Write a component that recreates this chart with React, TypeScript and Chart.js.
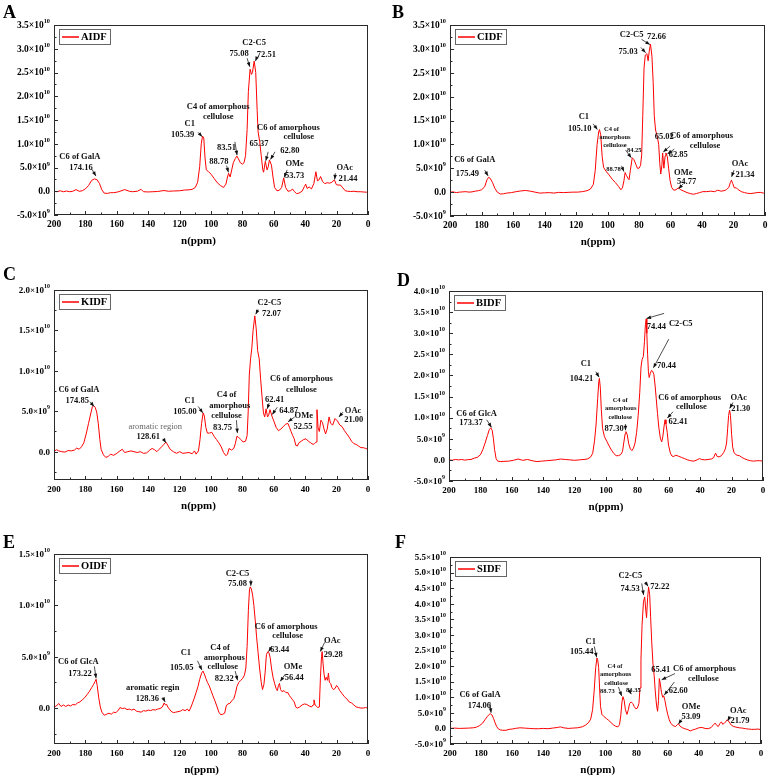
import React, { useEffect, useRef } from 'react';
import { Chart, registerables } from 'chart.js';

Chart.register(...registerables);

const SERIF = '"Liberation Serif", "Times New Roman", Times, serif';

// ===== Spectra: [chemical shift (ppm), intensity (×10^9)] =====
const aidfSpectrum: [number, number][] = [
  [200,0],[198,-0.1],[196,0.1],[194,-0.1],[192,0.05],[190,-0.1],[188,0],[186,0.35],[184,0],[182,0.1],
  [180,0.5],[178,1.2],[176,2.3],[174.2,2.6],[172.5,2.4],[171,1.6],[169.5,0.3],[168,-0.4],[166,-0.45],[164,-0.3],
  [162,-0.3],[160,-0.2],[158,0],[155,0.35],[152,0],[150,-0.1],[147,0],[144.5,0.4],[143,-0.1],[140,-0.15],
  [137,-0.1],[134,-0.05],[130,0.15],[127,0],[124,0.05],[120,0.1],[117,0.25],[114,0.3],[112,0.4],[110,0.8],
  [108.5,1.9],[107.2,5.2],[106.2,10],[105.4,11.6],[104.6,11.2],[103.8,7],[103,4.5],[101.5,4.1],[100,3.6],[98,2.7],
  [96,1.8],[94,1.2],[92,0.8],[90.5,1.5],[89.5,3],[88.8,3.8],[87.8,3],[86.8,4.5],[85.8,6],[84.5,6.9],
  [83.5,7.4],[82.5,6.8],[81.3,6],[80,5.7],[79,6],[78,7.5],[77,13],[76.2,21],[75.1,25.7],[74.2,24.6],
  [73.6,25],[72.5,27.4],[71.5,25],[70.6,17],[70,12.5],[69,10.5],[68,7.5],[67,4.5],[66.5,4],[65.4,6.3],
  [64.3,4.5],[63.5,5.2],[62.8,6.6],[61.5,5.5],[60.5,3],[59.5,0.8],[58,0.1],[56.5,0.2],[55,0.8],[53.7,2.8],
  [52.5,0.8],[51,0],[49.5,0.1],[48,0.45],[47,0],[45.5,-0.5],[44,-0.4],[42,0],[40.5,1],[39.7,1.5],
  [38.8,0.6],[37.5,0.9],[36,0.5],[34.5,1.6],[33.2,4.1],[32.2,2.2],[31.2,2.4],[30.2,3.1],[29,2.1],[27.5,1.6],
  [26,1.8],[24.5,1.7],[23,1.9],[21.4,2.4],[20.2,1.4],[19,1.3],[17.5,1.3],[16,0.7],[14.5,0.1],[13,0],
  [11,-0.05],[9,0],[7,-0.1],[5,-0.1],[3,-0.15],[1,-0.2],[0,-0.2],
];

const cidfSpectrum: [number, number][] = [
  [200,0],[198,0.05],[196,-0.1],[194,0],[192,0.05],[190,0.1],[188,0],[186,0.05],[184,0.2],[182,0.3],
  [180,0.5],[178,1.1],[176.5,2.6],[175.5,3.1],[174.5,2.9],[173,2],[171.5,0.8],[170,0],[168,-0.4],[166,-0.35],
  [164,-0.2],[161,-0.1],[158,0.1],[155,0.25],[152,0.35],[149,0.2],[146,0],[143,-0.2],[140,-0.15],[137,-0.1],
  [134,-0.2],[131,-0.05],[128,-0.1],[125,-0.05],[122,0],[119,0],[116,0.1],[113,0.3],[111,0.6],[109,1.6],
  [107.8,4.5],[106.6,10],[105.6,12.6],[105.1,13.1],[104.3,12],[103.4,7.5],[102.5,5.2],[101,4.4],[99,3.6],[97,2.7],
  [95,2],[93,1.2],[91.5,0.5],[90.5,0.9],[89.5,2.5],[88.8,4.1],[88,3.5],[87,2.9],[86.3,2.6],[85.5,4.5],
  [84.3,7.2],[83.2,6.8],[82,5.8],[81,5],[80,5],[79,5.6],[78.3,7.8],[77.6,16],[76.8,26],[76,28.7],
  [75,29],[74.2,27.5],[73.5,29.5],[72.7,31],[71.8,28.5],[71,23],[70.3,16],[69.5,13],[68.5,11.8],[67.5,10],
  [66.8,6],[66.2,3.8],[65.5,5.5],[65,8.2],[64.2,5],[63.4,7.6],[62.9,8.2],[62,7.4],[61.2,5],[60.3,2.5],
  [59.3,1],[58,0.4],[56.5,0.5],[55,0.9],[53.5,0.5],[51.5,0.2],[49.5,-0.1],[47.5,-0.3],[45.5,-0.45],[43.5,-0.3],
  [41.5,-0.1],[39.5,0.1],[37,0.1],[34.5,0.2],[32,0.1],[30,0.4],[28,0.2],[26,0.3],[24.5,0.5],[23,1],
  [22,2],[21.3,2.5],[20.5,1.8],[19.5,0.9],[18.2,0.9],[17,0.5],[15,0.1],[13,-0.1],[11,-0.25],[9,-0.3],
  [7,-0.2],[5,-0.1],[3,-0.05],[1,-0.2],[0,-0.3],
];

const kidfSpectrum: [number, number][] = [
  [200,0],[198.5,0.25],[197,0.1],[195,0],[193,-0.05],[191,0.15],[189,0.1],[187,0.2],[185.5,0.45],[184,0.3],
  [182.5,0.6],[181,1.1],[179.5,2.2],[178,3.5],[176.5,4.8],[175.5,5.6],[174.8,5.7],[173.8,5.5],[172.8,4.9],[171.8,3.5],
  [170.8,1.5],[170,0.3],[168.5,-0.4],[167,-0.7],[165.5,-0.6],[164,-0.3],[162,-0.45],[160,-0.2],[158,0.1],[156.5,0.3],
  [155,-0.1],[153,0],[151,0.1],[149,0],[147,-0.1],[145,0],[143,-0.2],[141,-0.15],[139,0.2],[137.5,0.4],
  [136,0.25],[134.5,0],[133,0.3],[131.5,0.6],[130,0.9],[128.7,1.2],[127.5,0.8],[126,0.3],[124,0],[122,-0.2],
  [120,0],[118,-0.2],[116,-0.15],[114,-0.1],[112,-0.25],[110.5,0.1],[109.5,-0.3],[108,0.1],[107,1.5],[106,3.5],
  [105,4.8],[104.2,4.4],[103.3,3],[102.3,2.3],[101,2.3],[99.5,2.4],[98,1.9],[96.5,1.5],[95,1.1],[93.5,0.6],
  [92,-0.1],[90.5,-0.5],[89.5,-0.3],[88.5,0.4],[87,0.2],[85.5,0.4],[84.5,1],[83.5,1.9],[82.5,1.8],[81,1.5],
  [79.5,1.2],[78,1.3],[77,2],[76.3,5],[75.6,9.5],[74.8,11.5],[74,12.8],[73.2,15],[72.1,16.8],[71.2,15.2],
  [70.3,12.5],[69.3,11.5],[68.4,9],[67.5,6.8],[66.6,4.8],[65.8,4.3],[64.9,5.3],[64,4.3],[63.3,4.5],[62.4,5.2],
  [61.2,4.4],[60,3.8],[58.5,3],[57,2.6],[55.5,2.8],[54,3.1],[52.5,3.4],[51,3.5],[50,3],[49,2.5],
  [48,2],[47,1.6],[46,0.8],[45,0.7],[44,1.1],[42.5,1.3],[41,1.5],[39.5,1.6],[38,1.3],[36.5,1.1],
  [35,0.9],[34,1],[33,1.2],[32.5,5.2],[31.8,3],[31,2.5],[30,3.9],[29,3.6],[28,2.8],[27,2.2],
  [26,2.8],[24.8,4.3],[23.8,3.5],[22.5,3.3],[21,4.1],[19.5,3.8],[18,3.3],[16.5,3.1],[15,2.6],[13.5,2.2],
  [12,1.8],[10.5,1.3],[9,1],[7.5,0.9],[6,0.7],[4.5,0.5],[3,0.5],[1.5,0.4],[0,0.3],
];

const bidfSpectrum: [number, number][] = [
  [200,0],[198,-0.1],[196,0.1],[194,0],[192,0.1],[190,-0.05],[188,0.05],[186,0.1],[184,0.4],[182,0.6],
  [180,1.2],[178.5,2.4],[177,4],[175.5,5.8],[174.3,7.2],[173.4,7.6],[172.5,7],[171.7,5],[171,2.5],[170,0.3],
  [169,-0.3],[167,-0.4],[165,-0.35],[162,-0.3],[159,-0.1],[156,0.2],[153,-0.1],[150,0.1],[147,-0.2],[144,-0.4],
  [141,-0.3],[138,-0.2],[135,-0.1],[132,0],[129,0.2],[126,0.1],[123,0],[120,-0.1],[117,0],[114,0.1],
  [112,0.2],[110,0.6],[108.5,1.5],[107.3,4.5],[106.3,8.5],[105.3,14.5],[104.6,18.5],[104.2,19.3],[103.6,17],[103,12],
  [102.2,7.5],[101,5.5],[99.5,4.4],[98,3.3],[96.5,2.3],[95,1.5],[93.5,1],[92,1],[90.5,1.3],[89.5,2],
  [88.7,4],[87.8,6.2],[87.3,6.7],[86.5,6],[85.5,3.8],[84.5,2.6],[83.5,2.2],[82.5,2.8],[81.5,4],[80.5,6.5],
  [79.5,10.5],[78.5,16],[77.7,22],[77,23.8],[76.2,24.5],[75.5,28],[74.9,32],[74.4,33.4],[74,30],[73.5,25],
  [73,21],[72.5,19.5],[71.8,20.5],[71,21.2],[70.3,21],[69.5,20.2],[68.7,17.5],[68,14.5],[67.2,11],[66.3,7.5],
  [65.3,5],[64.5,4.3],[63.8,5.5],[63,8],[62.4,9.5],[61.8,8.5],[61,6.5],[60.2,3.5],[59,1.6],[58,0.9],
  [57,0.8],[55.5,1.1],[54,0.9],[52,0.6],[50,0.3],[48,0],[46,-0.2],[44,-0.3],[42,0],[40.5,0.3],
  [39,0.1],[37,0],[35,0.1],[33,0.2],[31.5,0.5],[30.2,1.6],[29.2,0.8],[28,0.7],[26.5,1],[25,1.8],
  [24,2.6],[23.2,4],[22.5,7.5],[21.9,10.5],[21.3,11.8],[20.7,10.5],[20,6],[19.3,3],[18.5,1.8],[17.5,1.3],
  [16.5,1.1],[15,1],[13.5,0.6],[12,0.3],[10,0],[8,-0.2],[6,-0.3],[4,-0.2],[2,-0.2],[0,-0.3],
];

const oidfSpectrum: [number, number][] = [
  [200,0.1],[198.5,0.2],[197,0.45],[195.5,0.15],[194,0.3],[192.5,0.15],[191,0.3],[189.5,0.2],[188,0.35],[186.5,0.3],
  [185,0.5],[183.5,0.6],[182,0.8],[180.5,1],[179,1.3],[177.5,1.6],[176,2],[174.8,2.3],[173.8,2.6],[173.2,2.8],
  [172.5,2.2],[171.5,1],[170.5,0.1],[169.5,-0.4],[168,-0.7],[166.5,-0.6],[165,-0.5],[163.5,-0.6],[162,-0.4],[160.5,-0.45],
  [159,-0.2],[158,0.05],[156.5,-0.05],[155,0],[153.5,-0.15],[152,-0.1],[150.5,-0.2],[149,-0.1],[147.5,-0.3],[146,-0.35],
  [144.5,-0.4],[143,-0.25],[141.5,-0.3],[140,-0.2],[138.5,-0.25],[137,-0.15],[135.5,-0.2],[134,-0.1],[132.5,-0.05],[131,0.1],
  [129.8,0.5],[129,0.3],[128.2,0.35],[127.5,0.1],[126.5,-0.1],[125.5,-0.3],[124,-0.45],[122.5,-0.4],[121,-0.35],[119.5,-0.3],
  [118,-0.15],[116.5,-0.25],[115,-0.1],[114,-0.3],[113,0],[112,0.4],[110.8,0.9],[109.5,1.5],[108.3,2.1],[107.2,2.8],
  [106,3.4],[105.1,3.6],[104.2,3.3],[103.3,2.9],[102.3,2.5],[101.2,2.2],[100,1.7],[98.8,1.2],[97.5,0.7],[96.3,0.2],
  [95,-0.4],[93.8,-0.65],[92.5,-0.6],[91.3,-0.5],[90.3,0.2],[89.3,0.4],[88,0.45],[86.8,0.7],[85.5,0.9],[84.5,1.4],
  [83.5,2.1],[82.3,2.5],[81,2.7],[79.8,2.9],[78.7,3.2],[77.8,3.9],[77,6],[76.2,9.5],[75.5,11.5],[75,11.8],
  [74.3,11.6],[73.5,11],[72.7,10],[71.8,8.5],[71,7],[70,5.4],[69,3.8],[68,2.5],[67.2,1.8],[66.3,2.3],
  [65.5,3.5],[64.7,5.2],[63.8,5.5],[63.1,5.4],[62.3,4.9],[61.5,3.9],[60.5,3],[59.5,2.4],[58.5,1.9],[57.8,1.7],
  [57,2.2],[56.4,2.4],[55.7,1.8],[54.8,1.6],[53.5,1.7],[52.3,1.5],[51,1.5],[50,1.2],[49,1],[48,0.8],
  [47,0.6],[46,0.1],[45,0],[43.5,0.1],[42,0.3],[40.5,0.4],[39,0.35],[37.5,0.2],[36,0.1],[35,0.3],
  [34.4,0.8],[33.7,0.3],[33,0.2],[32,0.05],[31,0.1],[30.3,3],[29.6,5],[29.2,5.5],[28.6,4.3],[28,3.3],
  [27.3,2.7],[26.6,3],[25.8,2.7],[25.2,3.4],[24.6,2.5],[23.8,2.4],[23,2],[22,1.8],[21,1.9],[20,2.2],
  [19,2],[18,1.7],[16.5,1.4],[15,1.1],[13.5,0.9],[12,0.6],[10.5,0.5],[9,0.3],[7.5,0.1],[6,0.05],
  [4.5,0],[3,0],[1.5,0.05],[0,0],
];

const sidfSpectrum: [number, number][] = [
  [200,0],[197,0.1],[194,0],[191,0.05],[188,0.1],[185,0.2],[183,0.4],[181,0.9],[179,1.7],[177.5,2.8],
  [176,3.8],[174.8,4.5],[174,4.7],[173,4.3],[172,3.2],[171,1.8],[170,0.6],[169,-0.1],[167.5,-0.5],[166,-0.6],
  [164,-0.6],[162,-0.3],[160,-0.2],[158,0],[155,0.2],[152,0.1],[149,0],[146,-0.1],[143,-0.1],[140,0],
  [137,-0.1],[134,0.1],[131,0.3],[129,0.5],[127,0.2],[124,0],[121,0.1],[118,0.2],[115,0.5],[113,1],
  [111,1.8],[109.5,3],[108.3,6],[107.3,12],[106.3,19.5],[105.5,22.6],[105,22],[104.4,19.5],[103.8,13],[103.2,7],
  [102.3,4.5],[101,3.8],[99.5,3.2],[98,2.6],[96.5,1.9],[95,1.2],[93.5,0.7],[92,0.5],[91,1.2],[90.2,4],
  [89.4,8.5],[88.8,10.2],[88,9],[87.2,6],[86.2,4.5],[85.3,6],[84.5,8],[83.5,8.5],[82.5,8],[81.5,7],
  [80.5,6.3],[79.5,6.5],[78.5,8],[77.8,13],[77.2,22],[76.5,33],[75.6,40.5],[74.8,42.2],[74.1,38],[73.6,35.5],
  [72.9,42],[72.3,45.3],[71.6,43],[71,36],[70.3,28],[69.5,21],[68.7,17],[68,12],[67.2,7.5],[66.5,5.5],
  [65.9,9],[65.4,16],[64.8,14.5],[64,11.5],[63.2,10],[62.6,10.5],[61.8,9],[61,6.8],[60,4.5],[59,2.8],
  [58,1.6],[56.5,0.9],[55,0.6],[53.8,1.2],[53.1,1.5],[52,0.7],[50.5,0.2],[49,-0.1],[47,-0.4],[45.5,-0.8],
  [44,-0.5],[42,-0.2],[40,0.2],[38,0.3],[36,0],[34,-0.1],[32,0.3],[30.5,1.2],[29.5,1.7],[28.5,1],
  [27.5,0.6],[26.5,1.5],[25.5,2.1],[24.5,1.3],[23.5,1.8],[22.5,2.2],[21.8,2.8],[21,2.4],[20,1.7],[19,1],
  [17.5,0.6],[16,0.4],[14,0.2],[12,0.1],[10,-0.1],[8,-0.2],[6,-0.3],[4,-0.3],[2,-0.2],[0,-0.4],
];

// ===== Axis tick values =====
const xTickValues = [0, 20, 40, 60, 80, 100, 120, 140, 160, 180, 200];
const yTicksAB = [-5, 0, 5, 10, 15, 20, 25, 30, 35];
const yTicksC = [0, 5, 10, 15, 20];
const yTicksD = [-5, 0, 5, 10, 15, 20, 25, 30, 35, 40];
const yTicksE = [0, 5, 10, 15];
const yTicksF = [-5, 0, 5, 10, 15, 20, 25, 30, 35, 40, 45, 50, 55];

// ===== Peak annotations: text at (ppm, intensity ×10^9) =====
type Note = { t: string; x: number; y: number; k?: 'small' | 'gray' };
type Arrow = [number, number, number, number];

const notesA: Note[] = [
  { t: 'C6 of GalA', x: 183.5, y: 7.15 }, { t: '174.16', x: 182.8, y: 4.85 },
  { t: 'C1', x: 113.5, y: 14.1 }, { t: '105.39', x: 118.1, y: 11.85 },
  { t: 'C4 of amorphous', x: 95.4, y: 17.8 }, { t: 'cellulose', x: 95.4, y: 15.6 },
  { t: '83.51', x: 90.1, y: 9.2 }, { t: '88.78', x: 95, y: 6.1 },
  { t: 'C2-C5', x: 72.5, y: 31.3 }, { t: '75.08', x: 82.1, y: 29.0 }, { t: '72.51', x: 64.7, y: 28.8 },
  { t: 'C6 of amorphous', x: 50.7, y: 13.4 }, { t: 'cellulose', x: 44.1, y: 11.4 },
  { t: '65.37', x: 69.4, y: 10 }, { t: '62.80', x: 49.8, y: 8.5 },
  { t: 'OMe', x: 46.7, y: 5.7 }, { t: '53.73', x: 46.7, y: 3.2 },
  { t: 'OAc', x: 14.8, y: 5 }, { t: '21.44', x: 12.7, y: 2.7 },
];
const arrowsA: Arrow[] = [
  [175.8, 4.6, 173.3, 3.2], [108.2, 12.4, 105.6, 11.5], [84.8, 10.4, 83.4, 7.6], [90.1, 5.4, 88.9, 4.0],
  [77, 28, 75.3, 26.2], [70.6, 28.3, 71.7, 27.4], [63.6, 8.3, 65.1, 6.4], [59.2, 8.3, 62.1, 6.7],
  [51.5, 4.5, 53.4, 2.9], [20.8, 3.8, 21.2, 2.5],
];

const notesB: Note[] = [
  { t: 'C6 of GalA', x: 184.3, y: 6.85 }, { t: '175.49', x: 189, y: 3.9 },
  { t: 'C1', x: 115, y: 15.7 }, { t: '105.10', x: 117.6, y: 13.2 },
  { t: 'C4 of', x: 97.5, y: 13.2, k: 'small' }, { t: 'amorphous', x: 95.3, y: 11.5, k: 'small' },
  { t: 'cellulose', x: 95.3, y: 9.7, k: 'small' },
  { t: '88.78', x: 96.2, y: 4.8, k: 'small' }, { t: '84.25', x: 83, y: 8.7, k: 'small' },
  { t: 'C2-C5', x: 84.7, y: 32.9 }, { t: '72.66', x: 68.9, y: 32.6 }, { t: '75.03', x: 86.9, y: 29.4 },
  { t: '65.02', x: 64.0, y: 11.5 }, { t: 'C6 of amorphous', x: 40.3, y: 11.7 }, { t: 'cellulose', x: 38.1, y: 9.6 },
  { t: '62.85', x: 55.1, y: 7.8 },
  { t: 'OMe', x: 51.9, y: 4.1 }, { t: '54.77', x: 49.8, y: 2.2 },
  { t: 'OAc', x: 15.9, y: 5.9 }, { t: '21.34', x: 12.7, y: 3.6 },
];
const arrowsB: Arrow[] = [
  [178, 4.6, 175.8, 3.4], [109.1, 14.3, 106.4, 13.1], [91.1, 5.5, 89.6, 4.3], [88.5, 8.8, 84.9, 7.2],
  [78.4, 32, 73.1, 30.9], [78.8, 30.3, 75.8, 29.2], [60.4, 9.6, 64.6, 8.4], [57.6, 9.0, 61.9, 8.0],
  [52, 1.7, 54.9, 0.7], [19.7, 4.6, 21.2, 3.2],
];

const notesC: Note[] = [
  { t: 'C6 of GalA', x: 184.1, y: 7.6 }, { t: '174.85', x: 185.2, y: 6.3 },
  { t: 'aromatic region', x: 135.5, y: 3.1, k: 'gray' }, { t: '128.61', x: 140, y: 1.8 },
  { t: 'C1', x: 113.5, y: 6.3 }, { t: '105.00', x: 116.6, y: 4.9 },
  { t: 'C4 of', x: 90.1, y: 7 }, { t: 'amorphous', x: 88, y: 5.7 }, { t: 'cellulose', x: 90.1, y: 4.4 },
  { t: '83.75', x: 92.7, y: 3 },
  { t: 'C2-C5', x: 62.8, y: 18.4 }, { t: '72.07', x: 61.5, y: 17.1 },
  { t: 'C6 of amorphous', x: 42.4, y: 9 }, { t: 'cellulose', x: 42.4, y: 7.7 },
  { t: '62.41', x: 59.5, y: 6.4 }, { t: '64.87', x: 50.5, y: 5.0 },
  { t: 'OMe', x: 40.9, y: 4.4 }, { t: '52.55', x: 41.4, y: 3.1 },
  { t: 'OAc', x: 9.5, y: 5 }, { t: '21.00', x: 9.1, y: 3.9 },
];
const arrowsC: Arrow[] = [
  [177.1, 6.2, 174.5, 5.6], [130.4, 1.6, 128.7, 1.1], [108.2, 5.6, 105.2, 4.8], [83.8, 3.9, 83.2, 2.3],
  [70, 17.6, 71.5, 17.0], [63, 6.0, 64.2, 5.3], [57.8, 5.5, 61.0, 4.6], [46.7, 4.3, 50.9, 3.7],
  [15.9, 4.9, 18.5, 4.3],
];

const notesD: Note[] = [
  { t: 'C6 of GlcA', x: 182.4, y: 11 }, { t: '173.37', x: 186, y: 8.7 },
  { t: 'C1', x: 112.8, y: 22.7 }, { t: '104.21', x: 115.6, y: 19.3 },
  { t: 'C4 of', x: 91, y: 14, k: 'small' }, { t: 'amorphous', x: 90.6, y: 12.1, k: 'small' },
  { t: 'cellulose', x: 91, y: 10.1, k: 'small' }, { t: '87.30', x: 94.8, y: 7.3 },
  { t: '74.44', x: 67.9, y: 31.6 }, { t: 'C2-C5', x: 52.4, y: 32.3 }, { t: '70.44', x: 61.5, y: 22.2 },
  { t: 'C6 of amorphous', x: 46.7, y: 14.8 }, { t: 'cellulose', x: 45.6, y: 12.6 }, { t: '62.41', x: 54.1, y: 9.1 },
  { t: 'OAc', x: 15.5, y: 14.8 }, { t: '21.30', x: 14.2, y: 12 },
];
const arrowsD: Arrow[] = [
  [176, 9.5, 172.9, 7.7], [106.5, 20.9, 104.4, 19.6], [87.6, 8.5, 87.6, 7.0], [63, 34.7, 74.2, 33.5],
  [60, 28.6, 69.8, 21.8], [57.3, 11.4, 60.9, 9.9], [19.1, 13.6, 21.2, 12.2],
];

const notesE: Note[] = [
  { t: 'C6 of GlcA', x: 184.5, y: 4.55 }, { t: '173.22', x: 183.4, y: 3.35 },
  { t: 'aromatic regin', x: 137.1, y: 2.0 }, { t: '128.36', x: 140.5, y: 0.9 },
  { t: 'C1', x: 116, y: 5.4 }, { t: '105.05', x: 118.6, y: 3.96 },
  { t: 'C4 of', x: 94.2, y: 5.84 }, { t: 'amorphous', x: 91.6, y: 4.94 }, { t: 'cellulose', x: 92.5, y: 4.06 },
  { t: '82.32', x: 91.6, y: 2.82 },
  { t: 'C2-C5', x: 83.1, y: 13.1 }, { t: '75.08', x: 83.1, y: 12.1 },
  { t: 'C6 of amorphous', x: 52.1, y: 7.95 }, { t: 'cellulose', x: 51.2, y: 7 }, { t: '63.44', x: 56.3, y: 5.7 },
  { t: 'OMe', x: 47.8, y: 4.05 }, { t: '56.44', x: 47, y: 2.9 },
  { t: 'OAc', x: 22.7, y: 6.56 }, { t: '29.28', x: 22.1, y: 5.2 },
];
const arrowsE: Arrow[] = [
  [174.3, 4.06, 173.2, 2.9], [130.7, 1.04, 129.2, 0.6], [108.6, 4.6, 105.8, 3.7], [84.6, 3.6, 83.1, 2.7],
  [74.6, 12.5, 74.6, 11.9], [61.2, 6.0, 63.3, 5.5], [52.7, 3.3, 55.9, 2.6], [27.6, 6.4, 30.4, 5.5],
];

const notesF: Note[] = [
  { t: 'C6 of GalA', x: 180.7, y: 10.9 }, { t: '174.06', x: 181.1, y: 7.1 },
  { t: 'C1', x: 109.5, y: 27.9 }, { t: '105.44', x: 115.3, y: 24.7 },
  { t: 'C4 of', x: 93.9, y: 19.9, k: 'small' }, { t: 'amorphous', x: 93.5, y: 17.2, k: 'small' },
  { t: 'cellulose', x: 93.2, y: 14.6, k: 'small' },
  { t: '88.73', x: 98.8, y: 11.9, k: 'small' }, { t: '83.35', x: 82.1, y: 12.2, k: 'small' },
  { t: 'C2-C5', x: 84.0, y: 49.1 }, { t: '74.53', x: 84.2, y: 44.9 }, { t: '72.22', x: 65, y: 45.4 },
  { t: '65.41', x: 64.5, y: 18.8 }, { t: 'C6 of amorphous', x: 36.4, y: 19.1 }, { t: 'cellulose', x: 37.1, y: 16 },
  { t: '62.60', x: 53.2, y: 12.2 },
  { t: 'OMe', x: 45, y: 6.8 }, { t: '53.09', x: 45, y: 3.6 },
  { t: 'OAc', x: 14.6, y: 5.7 }, { t: '21.79', x: 13.5, y: 2.6 },
];
const arrowsF: Arrow[] = [
  [174.3, 8.2, 173.6, 5.0], [107.2, 26.3, 105.7, 22.8], [91.7, 13.3, 89.6, 10.4], [85.7, 13.0, 83.4, 11.0],
  [76.7, 46.5, 75.5, 42.8], [74.6, 47.0, 72.6, 45.6], [55.3, 17.6, 63.9, 15.6], [55.7, 14.9, 62.2, 10.7],
  [51, 2.9, 53.1, 1.4], [19.9, 3.9, 21.4, 2.4],
];

// ===== Panel layout =====
type Panel = {
  letter: string; name: string; spectrum: [number, number][];
  yMin: number; yMax: number; yTicks: number[];
  notes: Note[]; arrows: Arrow[];
  left: number; top: number; w: number; h: number;
  area: { left: number; right: number; top: number; bottom: number };
  letterPos: [number, number]; titlePpm: number; tickSize: number;
};

const panels: Panel[] = [
  { letter: 'A', name: 'AIDF', spectrum: aidfSpectrum, yMin: -5, yMax: 35, yTicks: yTicksAB, notes: notesA, arrows: arrowsA,
    left: 0, top: 0, w: 385, h: 260, area: { left: 54, right: 368, top: 25, bottom: 215 }, letterPos: [3, 18], titlePpm: 108, tickSize: 9.5 },
  { letter: 'B', name: 'CIDF', spectrum: cidfSpectrum, yMin: -5, yMax: 35, yTicks: yTicksAB, notes: notesB, arrows: arrowsB,
    left: 385, top: 0, w: 385, h: 260, area: { left: 65, right: 380, top: 25, bottom: 216 }, letterPos: [7, 18], titlePpm: 106, tickSize: 9.5 },
  { letter: 'C', name: 'KIDF', spectrum: kidfSpectrum, yMin: -3.5, yMax: 20, yTicks: yTicksC, notes: notesC, arrows: arrowsC,
    left: 0, top: 260, w: 385, h: 255, area: { left: 54, right: 368, top: 30, bottom: 220 }, letterPos: [3, 20], titlePpm: 108, tickSize: 9 },
  { letter: 'D', name: 'BIDF', spectrum: bidfSpectrum, yMin: -5, yMax: 40, yTicks: yTicksD, notes: notesD, arrows: arrowsD,
    left: 385, top: 260, w: 385, h: 255, area: { left: 64, right: 378, top: 31, bottom: 221 }, letterPos: [12, 26], titlePpm: 100, tickSize: 9 },
  { letter: 'E', name: 'OIDF', spectrum: oidfSpectrum, yMin: -3.5, yMax: 15, yTicks: yTicksE, notes: notesE, arrows: arrowsE,
    left: 0, top: 515, w: 385, h: 264, area: { left: 54, right: 368, top: 39, bottom: 229 }, letterPos: [3, 33], titlePpm: 106, tickSize: 9 },
  { letter: 'F', name: 'SIDF', spectrum: sidfSpectrum, yMin: -5, yMax: 55, yTicks: yTicksF, notes: notesF, arrows: arrowsF,
    left: 385, top: 515, w: 385, h: 264, area: { left: 65, right: 376, top: 42, bottom: 229 }, letterPos: [10, 33], titlePpm: 105, tickSize: 9 },
];

function sciParts(v: number): [string, string] {
  if (v === 0) return ['0.0', ''];
  const raw = v * 1e9;
  const e = Math.floor(Math.log10(Math.abs(raw)) + 1e-9);
  const m = raw / Math.pow(10, e);
  return [m.toFixed(1) + '\u00d710', String(e)];
}

function drawArrow(ctx: CanvasRenderingContext2D, x1: number, y1: number, x2: number, y2: number) {
  ctx.beginPath();
  ctx.moveTo(x1, y1);
  ctx.lineTo(x2, y2);
  ctx.stroke();
  const ang = Math.atan2(y2 - y1, x2 - x1);
  const L = 4.5, W = 1.8;
  const bx = x2 - L * Math.cos(ang), by = y2 - L * Math.sin(ang);
  ctx.beginPath();
  ctx.moveTo(x2, y2);
  ctx.lineTo(bx + W * Math.sin(ang), by - W * Math.cos(ang));
  ctx.lineTo(bx - W * Math.sin(ang), by + W * Math.cos(ang));
  ctx.closePath();
  ctx.fill();
}

function makeDecor(p: Panel) {
  return {
    id: 'decor' + p.letter,
    afterDraw(chart: any) {
      const { ctx, chartArea: a } = chart;
      const xs = chart.scales.x, ys = chart.scales.y;
      ctx.save();
      // frame
      ctx.strokeStyle = '#2a2a2a';
      ctx.lineWidth = 1;
      ctx.strokeRect(a.left + 0.5, a.top + 0.5, a.right - a.left - 1, a.bottom - a.top - 1);
      // inward ticks
      ctx.beginPath();
      for (let v = 0; v <= 200; v += 10) {
        const px = Math.round(xs.getPixelForValue(v)) + 0.5;
        const len = v % 20 === 0 ? 4 : 2.5;
        ctx.moveTo(px, a.bottom);
        ctx.lineTo(px, a.bottom - len);
      }
      for (let v = Math.ceil(p.yMin / 2.5) * 2.5; v <= p.yMax + 1e-9; v += 2.5) {
        const py = Math.round(ys.getPixelForValue(v)) + 0.5;
        const major = Math.abs(v / 5 - Math.round(v / 5)) < 1e-6;
        ctx.moveTo(a.left, py);
        ctx.lineTo(a.left + (major ? 4 : 2.5), py);
      }
      ctx.stroke();
      // y tick labels (scientific with superscript)
      ctx.fillStyle = '#000';
      ctx.textBaseline = 'middle';
      ctx.textAlign = 'left';
      const mainFont = `bold ${p.tickSize}px ${SERIF}`;
      const supFont = `bold ${p.tickSize * 0.66}px ${SERIF}`;
      ys.ticks.forEach((t: any) => {
        const py = ys.getPixelForValue(t.value);
        const [main, sup] = sciParts(t.value);
        ctx.font = mainFont;
        const wm = ctx.measureText(main).width;
        ctx.font = supFont;
        const wsup = sup ? ctx.measureText(sup).width : 0;
        const xr = a.left - 4;
        ctx.font = mainFont;
        ctx.fillText(main, xr - wsup - wm, py + 0.5);
        if (sup) {
          ctx.font = supFont;
          ctx.fillText(sup, xr - wsup, py - 3.5);
        }
      });
      // axis title
      ctx.textAlign = 'center';
      ctx.font = `bold 11px ${SERIF}`;
      ctx.fillText('n(ppm)', xs.getPixelForValue(p.titlePpm), a.bottom + 26.5);
      // legend box
      const lx = a.left + 5, ly = a.top + 4, lw = 51, lh = 15;
      ctx.fillStyle = '#fff';
      ctx.fillRect(lx, ly, lw, lh);
      ctx.strokeStyle = '#666';
      ctx.lineWidth = 1;
      ctx.strokeRect(lx + 0.5, ly + 0.5, lw, lh);
      ctx.strokeStyle = '#ff0000';
      ctx.lineWidth = 1.5;
      ctx.beginPath();
      ctx.moveTo(lx + 3, ly + lh / 2 + 0.5);
      ctx.lineTo(lx + 20, ly + lh / 2 + 0.5);
      ctx.stroke();
      ctx.fillStyle = '#000';
      ctx.textAlign = 'left';
      ctx.font = `bold 10.5px ${SERIF}`;
      ctx.fillText(p.name, lx + 22, ly + lh / 2 + 1);
      // peak notes
      ctx.textAlign = 'center';
      p.notes.forEach((n) => {
        if (n.k === 'small') {
          ctx.font = `bold 6.5px ${SERIF}`;
          ctx.fillStyle = '#111';
        } else if (n.k === 'gray') {
          ctx.font = `8.5px ${SERIF}`;
          ctx.fillStyle = '#666';
        } else {
          ctx.font = `bold 8.5px ${SERIF}`;
          ctx.fillStyle = '#111';
        }
        ctx.fillText(n.t, xs.getPixelForValue(n.x), ys.getPixelForValue(n.y));
      });
      // arrows
      ctx.strokeStyle = '#222';
      ctx.fillStyle = '#111';
      ctx.lineWidth = 0.8;
      p.arrows.forEach(([x1, y1, x2, y2]) => {
        drawArrow(ctx, xs.getPixelForValue(x1), ys.getPixelForValue(y1), xs.getPixelForValue(x2), ys.getPixelForValue(y2));
      });
      // panel letter
      ctx.fillStyle = '#000';
      ctx.textAlign = 'left';
      ctx.textBaseline = 'alphabetic';
      ctx.font = `bold 18px ${SERIF}`;
      ctx.fillText(p.letter, p.letterPos[0], p.letterPos[1]);
      ctx.restore();
    },
  };
}

function SpectrumPanel({ p }: { p: Panel }) {
  const ref = useRef<HTMLCanvasElement | null>(null);
  useEffect(() => {
    if (!ref.current) return;
    const chart = new Chart(ref.current, {
      type: 'scatter',
      data: {
        datasets: [
          {
            label: p.name,
            data: p.spectrum.map(([x, y]) => ({ x, y })),
            showLine: true,
            borderColor: '#ff0000',
            borderWidth: 1,
            pointRadius: 0,
            tension: 0,
            fill: false,
          },
        ],
      },
      options: {
        responsive: false,
        animation: false,
        events: [],
        layout: { padding: { left: 0, top: p.area.top, right: p.w - p.area.right, bottom: 0 } },
        plugins: { legend: { display: false }, tooltip: { enabled: false } },
        scales: {
          x: {
            type: 'linear',
            reverse: true,
            min: 0,
            max: 200,
            afterBuildTicks: (ax: any) => { ax.ticks = xTickValues.map((v) => ({ value: v })); },
            ticks: { font: { family: SERIF, size: p.tickSize, weight: 'bold' }, color: '#000', padding: 4, maxRotation: 0, autoSkip: false },
            grid: { display: false, drawTicks: false },
            border: { display: false },
            afterFit: (s: any) => { s.height = p.h - p.area.bottom; },
          },
          y: {
            type: 'linear',
            min: p.yMin,
            max: p.yMax,
            afterBuildTicks: (ax: any) => { ax.ticks = p.yTicks.map((v) => ({ value: v })); },
            ticks: { display: false },
            grid: { display: false, drawTicks: false },
            border: { display: false },
            afterFit: (s: any) => { s.width = p.area.left; },
          },
        },
      } as any,
      plugins: [makeDecor(p)],
    });
    return () => chart.destroy();
  }, [p]);
  return (
    <canvas
      ref={ref}
      width={p.w}
      height={p.h}
      style={{ position: 'absolute', left: p.left, top: p.top, width: p.w, height: p.h }}
    />
  );
}

export default function App() {
  return (
    <div style={{ position: 'absolute', left: 0, top: 0, width: 770, height: 779, background: '#fff', overflow: 'hidden' }}>
      {panels.map((p) => (
        <SpectrumPanel key={p.letter} p={p} />
      ))}
    </div>
  );
}
